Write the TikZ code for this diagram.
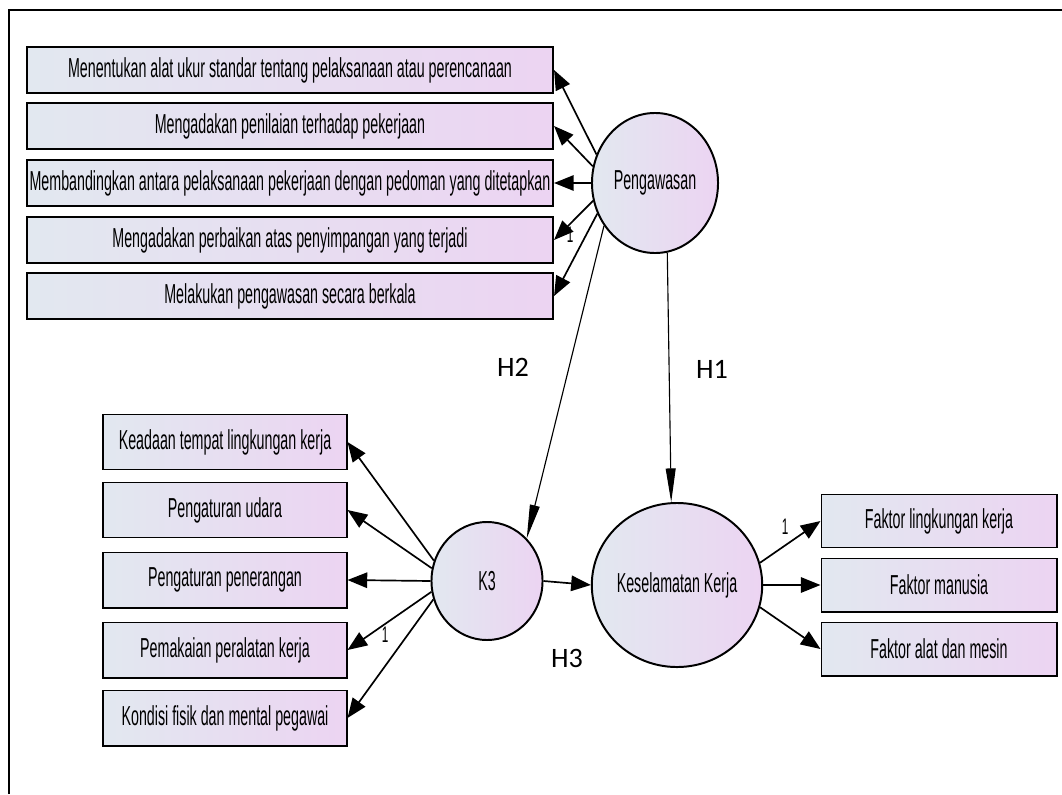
\documentclass[tikz,border=0pt]{standalone}
\usepackage{fontspec}
\newfontfamily\amosfont[FakeStretch=0.52]{Liberation Sans}
\newfontfamily\hypfont{Carlito}
\usetikzlibrary{shapes.geometric,arrows.meta}
\definecolor{leftfill}{RGB}{226,232,240}
\definecolor{rightfill}{RGB}{236,212,242}
\tikzset{
  indicator/.style={draw=black,line width=1.4pt,left color=leftfill,right color=rightfill,
    font=\amosfont\fontsize{19.5}{22}\selectfont,inner sep=0pt},
  latent/.style={ellipse,draw=black,line width=1.4pt,left color=leftfill,right color=rightfill,
    font=\amosfont\fontsize{19.5}{22}\selectfont,inner sep=0pt},
  loading/.style={line width=1.2pt,-{Triangle[length=14pt,width=11pt]}},
  hpath/.style={line width=0.8pt,-{Triangle[length=24pt,width=7pt]}},
  hlabel/.style={font=\hypfont\fontsize{20}{24}\selectfont},
  fixed/.style={font=\amosfont\fontsize{16}{18}\selectfont}
}
\begin{document}
\begin{tikzpicture}[x=0.025cm,y=-0.025cm]
\useasboundingbox (0,0) rectangle (1062,794);
\draw[line width=1.4pt] (9,794) -- (9,10) -- (1062,10);

% latent variables
\node[latent,minimum width=3.15cm,minimum height=3.5cm] (peng) at (655,183) {Pengawasan};
\node[latent,minimum width=2.775cm,minimum height=2.95cm] (k3) at (487,581) {K3};
\node[latent,minimum width=3.975cm,minimum height=4.1cm] (kes) at (677,585) {Keselamatan Kerja};

% indicators
\foreach \i/\y/\t in {1/70/Menentukan alat ukur standar tentang pelaksanaan atau perencanaan,
    2/126/Mengadakan penilaian terhadap pekerjaan,
    3/183/Membandingkan antara pelaksanaan pekerjaan dengan pedoman yang ditetapkan,
    4/240/Mengadakan perbaikan atas penyimpangan yang terjadi,
    5/296/Melakukan pengawasan secara berkala}
    \node[indicator,minimum width=13.15cm,minimum height=1.15cm] (pw\i) at (290,\y) {\t};
\foreach \i/\y/\t in {1/442/Keadaan tempat lingkungan kerja,
    2/510/Pengaturan udara,
    3/580/Pengaturan penerangan,
    4/650/Pemakaian peralatan kerja,
    5/718/Kondisi fisik dan mental pegawai}
    \node[indicator,minimum width=6.075cm,minimum height=1.375cm] (kt\i) at (225,\y) {\t};
\foreach \i/\y/\t in {1/521/Faktor lingkungan kerja,
    2/585/Faktor manusia,
    3/649/Faktor alat dan mesin}
    \node[indicator,minimum width=5.875cm,minimum height=1.325cm] (kk\i) at (939,\y) {\t};

% loadings
\foreach \i/\a in {1/154,2/165,3/180,4/196,5/208}
    \draw[loading] (peng.\a) -- (pw\i.east);
\foreach \i/\a in {1/159,2/167,3/180,4/191,5/199}
    \draw[loading] (k3.\a) -- (kt\i.east);
\foreach \i/\a in {1/15,2/0,3/345}
    \draw[loading] (kes.\a) -- (kk\i.west);

% hypotheses
\draw[hpath] (peng.220) -- (k3.47);
\draw[hpath] (peng.280) -- (kes.94);
\draw[loading] (k3.east) -- (kes.west);

\node[hlabel] (h1) at (712,369) {H1};
\node[hlabel] (h2) at (513,367) {H2};
\node[hlabel] (h3) at (567,658) {H3};

\node[fixed] (one1) at (570,235) {1};
\node[fixed] (one2) at (385,635) {1};
\node[fixed] (one3) at (785,527) {1};
\end{tikzpicture}
\end{document}
